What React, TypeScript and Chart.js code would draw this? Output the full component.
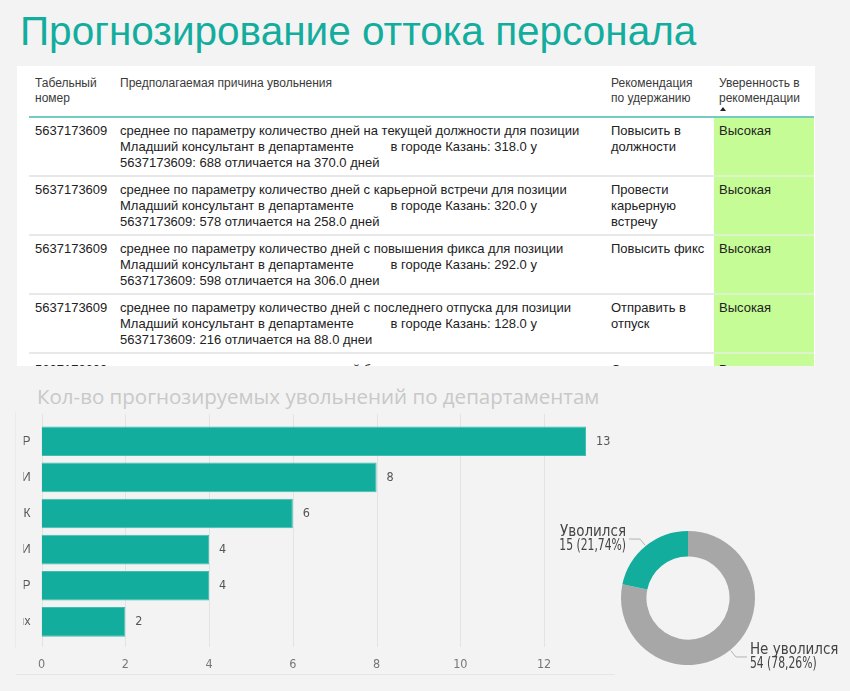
import React, { useEffect, useRef } from "react";
import { Chart, registerables } from "chart.js";

Chart.register(...registerables);

// ---------- data ----------
const pageTitle = "Прогнозирование оттока персонала";
const barTitle = "Кол-во прогнозируемых увольнений по департаментам";

const tableHeaders = [
  ["Табельный", "номер"],
  ["Предполагаемая причина увольнения"],
  ["Рекомендация", "по удержанию"],
  ["Уверенность в", "рекомендации"],
];
const employeeIds = ["5637173609", "5637173609", "5637173609", "5637173609", "5637173609"];
const reasonParams = [
  "на текущей должности",
  "с карьерной встречи",
  "с повышения фикса",
  "с последнего отпуска",
  "без отпуска",
];
const positionName = "Младший консультант";
const cityName = "Казань";
const avgDays = ["318.0", "320.0", "292.0", "128.0", "128.0"];
const employeeDays = ["688", "578", "598", "216", "216"];
const diffDays = ["370.0", "258.0", "306.0", "88.0", "88.0"];
const dayWords = ["дней", "дней", "днеи", "днеи", "днеи"];
const recommendations = [
  ["Повысить в", "должности"],
  ["Провести", "карьерную", "встречу"],
  ["Повысить фикс"],
  ["Отправить в", "отпуск"],
  ["Отправить в", "отпуск"],
];
const confidence = ["Высокая", "Высокая", "Высокая", "Высокая", "Высокая"];

const deptLabels = ["Р", "И", "К", "И", "Р", "ых"];
const deptCounts = [13, 8, 6, 4, 4, 2];
const xTickMax = 13;

const statusLabels = ["Не уволился", "Уволился"];
const statusCounts = [54, 15];

// ---------- styles ----------
const TEAL = "#13ad9e";
const GREY = "#a7a7a7";
const NARROW = "'Liberation Sans Narrow', 'DejaVu Sans Condensed', Roboto, sans-serif";
const SANS = "'Liberation Sans', Arial, Helvetica, sans-serif";

function BarChart() {
  const ref = useRef<HTMLCanvasElement>(null);
  useEffect(() => {
    const gridPlugin = {
      id: "extGrid",
      beforeDatasetsDraw(chart: any) {
        const { ctx, chartArea, scales } = chart;
        const xs = scales.x;
        ctx.save();
        ctx.strokeStyle = "#e3e3e3";
        ctx.lineWidth = 1;
        xs.ticks.forEach((t: any) => {
          const x = Math.round(xs.getPixelForValue(t.value)) + 0.5;
          ctx.beginPath();
          ctx.moveTo(x, chartArea.top - 9);
          ctx.lineTo(x, chartArea.bottom + 7);
          ctx.stroke();
        });
        ctx.restore();
      },
    };
    const valuePlugin = {
      id: "valueLabels",
      afterDatasetsDraw(chart: any) {
        const { ctx } = chart;
        const meta = chart.getDatasetMeta(0);
        const data = chart.data.datasets[0].data;
        ctx.save();
        ctx.font = `12.5px ${NARROW}`;
        ctx.fillStyle = "#555";
        ctx.textBaseline = "middle";
        ctx.textAlign = "left";
        meta.data.forEach((bar: any, i: number) => {
          ctx.fillText(String(data[i]), bar.x + 10, bar.y);
        });
        ctx.restore();
      },
    };
    const chart = new Chart(ref.current as HTMLCanvasElement, {
      type: "bar",
      data: {
        labels: deptLabels,
        datasets: [
          {
            data: deptCounts,
            backgroundColor: TEAL,
            borderColor: "#3fbfb1",
            borderWidth: 1,
            barPercentage: 0.82,
            categoryPercentage: 1,
          },
        ],
      },
      options: {
        indexAxis: "y",
        responsive: false,
        animation: false,
        devicePixelRatio: 1,
        layout: { padding: { top: 17, right: 35, bottom: 8, left: 0 } },
        plugins: { legend: { display: false }, tooltip: { enabled: false } },
        scales: {
          x: {
            type: "linear",
            min: 0,
            max: xTickMax,
            afterBuildTicks: (s: any) => {
              s.ticks = s.ticks.filter((t: any) => t.value % 2 === 0);
            },
            afterFit: (s: any) => {
              s.height = 32;
            },
            grid: { display: false, drawTicks: false },
            border: { display: false },
            ticks: { stepSize: 2, color: "#777", padding: 17, font: { family: NARROW, size: 12.5 } },
          },
          y: {
            type: "category",
            grid: { display: false, drawTicks: false },
            border: { display: false },
            ticks: { color: "#555", padding: 11, font: { family: SANS, size: 12 } },
            afterFit: (s: any) => {
              s.width = 18;
            },
          },
        },
      } as any,
      plugins: [gridPlugin, valuePlugin],
    });
    return () => chart.destroy();
  }, []);
  return (
    <canvas
      ref={ref}
      width={600}
      height={275}
      style={{ position: "absolute", left: 21, top: 405, width: 600, height: 275 }}
    />
  );
}

function DonutChart() {
  const ref = useRef<HTMLCanvasElement>(null);
  useEffect(() => {
    const labelPlugin = {
      id: "donutLabels",
      afterDatasetsDraw(chart: any) {
        const { ctx } = chart;
        const meta = chart.getDatasetMeta(0);
        const data: number[] = chart.data.datasets[0].data;
        const total = data.reduce((a, b) => a + b, 0);
        ctx.save();
        meta.data.forEach((arc: any, i: number) => {
          const mid = (arc.startAngle + arc.endAngle) / 2;
          const c = Math.cos(mid);
          const s = Math.sin(mid);
          const r = arc.outerRadius;
          const x0 = arc.x + c * (r + 1);
          const y0 = arc.y + s * (r + 1);
          const x1 = arc.x + c * (r + 9);
          const y1 = arc.y + s * (r + 9);
          const dir = c < 0 ? -1 : 1;
          const x2 = x1 + dir * 11;
          ctx.strokeStyle = "#b3b3b3";
          ctx.lineWidth = 1;
          ctx.beginPath();
          ctx.moveTo(x0, y0);
          ctx.lineTo(x1, y1);
          ctx.lineTo(x2, y1);
          ctx.stroke();
          const pct = ((data[i] / total) * 100).toFixed(2).replace(".", ",");
          ctx.font = `15px ${NARROW}`;
          ctx.fillStyle = "#444";
          ctx.textBaseline = "middle";
          ctx.textAlign = dir < 0 ? "right" : "left";
          const tx = x2 + dir * 3;
          ctx.fillText(chart.data.labels[i], tx, y1 - 7);
          // condensed numeric line
          ctx.save();
          ctx.translate(tx, y1 + 7);
          ctx.scale(0.8, 1);
          ctx.fillText(`${data[i]} (${pct}%)`, 0, 0);
          ctx.restore();
        });
        ctx.restore();
      },
    };
    const chart = new Chart(ref.current as HTMLCanvasElement, {
      type: "doughnut",
      data: {
        labels: statusLabels,
        datasets: [
          {
            data: statusCounts,
            backgroundColor: [GREY, TEAL],
            borderWidth: 0,
          },
        ],
      },
      options: {
        responsive: false,
        animation: false,
        devicePixelRatio: 1,
        cutout: "62%",
        layout: { padding: { left: 81, right: 95, top: 31, bottom: 25 } },
        plugins: { legend: { display: false }, tooltip: { enabled: false } },
      } as any,
      plugins: [labelPlugin],
    });
    return () => chart.destroy();
  }, []);
  return (
    <canvas
      ref={ref}
      width={310}
      height={190}
      style={{ position: "absolute", left: 540, top: 500, width: 310, height: 190 }}
    />
  );
}

function ReasonCell({ i }: { i: number }) {
  return (
    <>
      {`среднее по параметру количество дней ${reasonParams[i]} для позиции`}
      <br />
      {`${positionName} в департаменте `}
      <span style={{ display: "inline-block", width: 33 }} />
      {`в городе ${cityName}: ${avgDays[i]} у`}
      <br />
      {`${employeeIds[i]}: ${employeeDays[i]} отличается на ${diffDays[i]} ${dayWords[i]}`}
    </>
  );
}

function DataTable() {
  const colWidths = [85, 491, 109, 100];
  const th: React.CSSProperties = {
    padding: "10px 6px 10px 6px",
    fontSize: 12,
    lineHeight: "15px",
    color: "#3a3a3a",
    fontWeight: "normal",
    textAlign: "left",
    verticalAlign: "top",
    borderBottom: "2px solid #72ccc2",
    whiteSpace: "nowrap",
    position: "relative",
  };
  const td: React.CSSProperties = {
    padding: "5px 6px 4px 6px",
    fontSize: 13,
    lineHeight: "16px",
    color: "#222",
    verticalAlign: "top",
    borderBottom: "2px solid #e8e8e8",
    whiteSpace: "nowrap",
  };
  const last = employeeIds.length - 1;
  return (
    <div
      style={{
        position: "absolute",
        left: 17,
        top: 66,
        width: 798,
        height: 300,
        background: "#fff",
        overflow: "hidden",
      }}
    >
      <table
        style={{
          position: "absolute",
          left: 12,
          top: 0,
          width: 785,
          tableLayout: "fixed",
          borderCollapse: "separate",
          borderSpacing: 0,
          fontFamily: SANS,
        }}
      >
        <colgroup>
          {colWidths.map((w, i) => (
            <col key={i} style={{ width: w }} />
          ))}
        </colgroup>
        <thead>
          <tr>
            {tableHeaders.map((h, i) => (
              <th key={i} style={{ ...th, paddingLeft: i === 3 ? 5 : 6 }}>
                {h.map((line, j) => (
                  <React.Fragment key={j}>
                    {j > 0 && <br />}
                    {line}
                  </React.Fragment>
                ))}
                {i === 3 && (
                  <div
                    style={{
                      position: "absolute",
                      left: 6,
                      top: 41,
                      width: 0,
                      height: 0,
                      borderLeft: "3.5px solid transparent",
                      borderRight: "3.5px solid transparent",
                      borderBottom: "4px solid #222",
                    }}
                  />
                )}
              </th>
            ))}
          </tr>
        </thead>
        <tbody>
          {employeeIds.map((id, i) => {
            const rowTd = i === last ? { ...td, paddingTop: 8 } : td;
            return (
              <tr key={i}>
                <td style={rowTd}>{id}</td>
                <td style={rowTd}>
                  <ReasonCell i={i} />
                </td>
                <td style={rowTd}>
                  {recommendations[i].map((line, j) => (
                    <React.Fragment key={j}>
                      {j > 0 && <br />}
                      {line}
                    </React.Fragment>
                  ))}
                </td>
                <td
                  style={{
                    ...rowTd,
                    paddingLeft: 5,
                    background: "#c6fc95",
                    borderBottom: "2px solid #dcf3cb",
                  }}
                >
                  {confidence[i]}
                </td>
              </tr>
            );
          })}
        </tbody>
      </table>
    </div>
  );
}

export default function App() {
  return (
    <div
      style={{
        position: "relative",
        width: 850,
        height: 691,
        background: "#f3f3f3",
        overflow: "hidden",
        fontFamily: SANS,
      }}
    >
      <style>{`body{margin:0;background:#f3f3f3}`}</style>
      <div
        style={{
          position: "absolute",
          left: 20,
          top: 11,
          fontSize: 40.5,
          lineHeight: "40.5px",
          color: TEAL,
          whiteSpace: "nowrap",
          fontFamily: SANS,
        }}
      >
        {pageTitle}
      </div>
      <DataTable />
      <div
        style={{
          position: "absolute",
          left: 37,
          top: 386,
          fontSize: 20.5,
          lineHeight: "21px",
          color: "#c8c8c8",
          whiteSpace: "nowrap",
          fontFamily: "'Open Sans', sans-serif",
        }}
      >
        {barTitle}
      </div>
      <div
        style={{
          position: "absolute",
          left: 15,
          top: 412,
          width: 0,
          height: 236,
          borderLeft: "1px solid #ebebeb",
        }}
      />
      <div
        style={{
          position: "absolute",
          left: 16,
          top: 674,
          width: 599,
          height: 0,
          borderTop: "1px solid #e6e6e6",
        }}
      />
      <BarChart />
      <DonutChart />
    </div>
  );
}
